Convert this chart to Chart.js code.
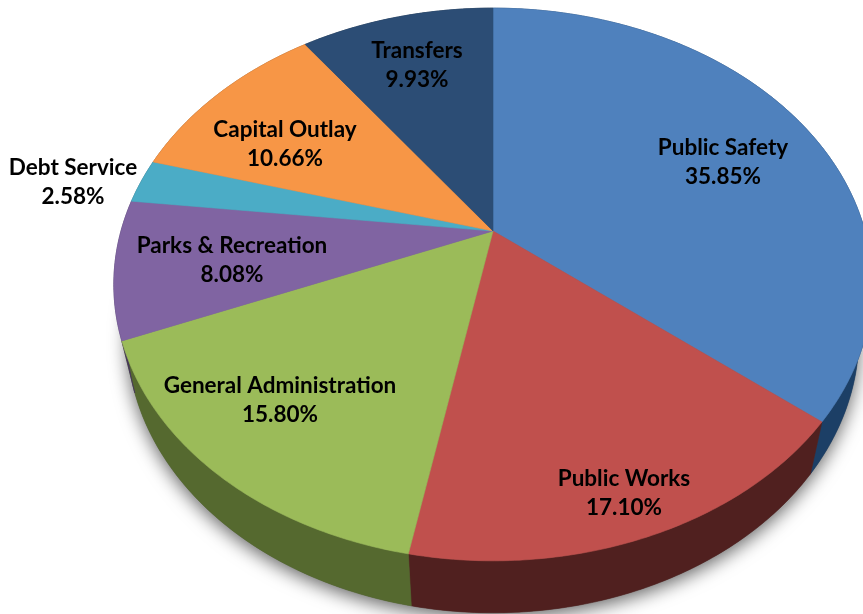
<!DOCTYPE html>
<html>
<head>
<meta charset="utf-8">
<script src="https://cdn.jsdelivr.net/npm/chart.js@4"></script>
<style>
  html, body { margin: 0; padding: 0; background: #fff; overflow: hidden; }
  #wrap { width: 863px; height: 614px; }
</style>
</head>
<body>
<div id="wrap"><canvas id="pie"></canvas></div>
<script>
const categories = ['Public Safety', 'Public Works', 'General Administration', 'Parks & Recreation', 'Debt Service', 'Capital Outlay', 'Transfers'];
const shares = [35.85, 17.10, 15.80, 8.08, 2.58, 10.66, 9.93];

const faceColors = ['#4f81bd', '#c0504d', '#9bbb59', '#8064a2', '#4bacc6', '#f79646', '#2c4d75'];
const wallColors = ['#1c3f66', '#50201f', '#55692f', '#45345c', '#276172', '#8f5420', '#182b42'];
const labelSpots = [[723, 148], [624, 479], [280, 386], [232, 246], [73, 168], [285, 130], [417, 51]];

// circle seen in perspective: near edge (bottom) is bigger than the far edge
const view = { cx: 493, cy: 231, a: 372, b: 266, k: 0.1935, depth: 52, shrinkX: 0.965 };

function project(angle, r, low) {
  const x = Math.cos(angle) * r, y = Math.sin(angle) * r;
  const w = 1 - view.k * y;
  const s = low ? view.shrinkX : 1;
  return [view.cx + s * view.a * x / w, view.cy + (low ? view.depth : 0) + view.b * y / w];
}

function rim(ctx, from, to, low) {
  const steps = Math.max(2, Math.ceil(Math.abs(to - from) * 90));
  for (let i = 0; i <= steps; i++) {
    const p = project(from + (to - from) * i / steps, 1, low);
    ctx.lineTo(p[0], p[1]);
  }
}

const tiltedPie = {
  id: 'tiltedPie',
  beforeDatasetsDraw(chart) {
    const ctx = chart.ctx;
    const arcs = chart.getDatasetMeta(0).data;
    ctx.save();

    // soft shadow under the whole pie
    ctx.save();
    ctx.shadowColor = 'rgba(0,0,0,0.6)';
    ctx.shadowBlur = 18;
    ctx.shadowOffsetY = 5;
    ctx.fillStyle = '#555';
    ctx.beginPath();
    rim(ctx, 0, Math.PI * 2, true);
    ctx.closePath();
    ctx.fill();
    ctx.restore();

    // walls
    arcs.forEach((arc, i) => {
      ctx.beginPath();
      rim(ctx, arc.startAngle, arc.endAngle, false);
      rim(ctx, arc.endAngle, arc.startAngle, true);
      ctx.closePath();
      ctx.fillStyle = wallColors[i];
      ctx.strokeStyle = wallColors[i];
      ctx.lineWidth = 0.6;
      ctx.fill();
      ctx.stroke();
    });

    // top faces
    arcs.forEach((arc, i) => {
      ctx.beginPath();
      ctx.moveTo(view.cx, view.cy);
      rim(ctx, arc.startAngle, arc.endAngle, false);
      ctx.closePath();
      ctx.fillStyle = faceColors[i];
      ctx.strokeStyle = faceColors[i];
      ctx.lineWidth = 0.6;
      ctx.fill();
      ctx.stroke();
    });

    ctx.restore();
    return false;
  },
  afterDraw(chart) {
    const ctx = chart.ctx;
    ctx.save();
    ctx.fillStyle = '#000';
    ctx.font = 'bold 22.5px Lato';
    ctx.textAlign = 'center';
    ctx.textBaseline = 'middle';
    categories.forEach((name, i) => {
      const [x, y] = labelSpots[i];
      ctx.fillText(name, x, y);
      ctx.fillText(shares[i].toFixed(2) + '%', x, y + 29);
    });
    ctx.restore();
  }
};

new Chart(document.getElementById('pie'), {
  type: 'pie',
  data: {
    labels: categories,
    datasets: [{ data: shares, backgroundColor: faceColors, borderWidth: 0 }]
  },
  options: {
    responsive: true,
    maintainAspectRatio: false,
    animation: false,
    plugins: { legend: { display: false }, tooltip: { enabled: false } }
  },
  plugins: [tiltedPie]
});
</script>
</body>
</html>
